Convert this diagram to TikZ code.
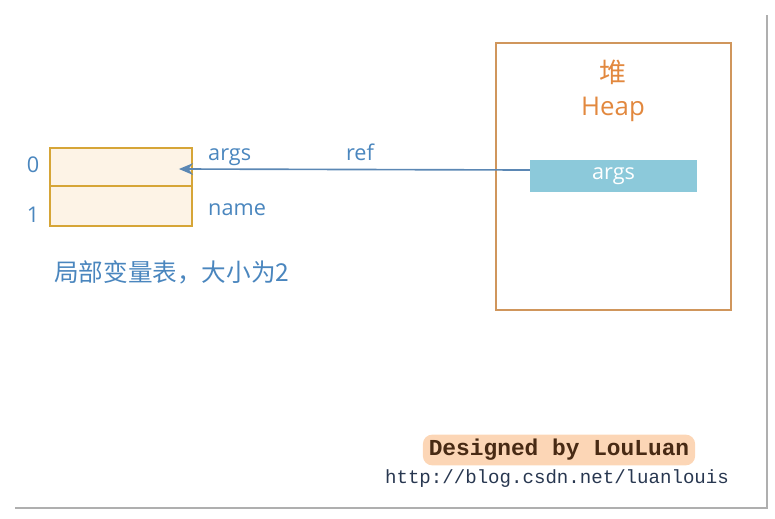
\documentclass[tikz,border=0pt]{standalone}
\usepackage{fontspec}
\setmainfont{Open Sans}
\newfontfamily\cjkfont{Noto Sans CJK SC}
\newfontfamily\monofont{Liberation Mono}
\usetikzlibrary{arrows.meta,positioning,calc}
\definecolor{labelblue}{RGB}{74, 134, 190}
\definecolor{arrowblue}{RGB}{91, 135, 180}
\definecolor{tablegold}{RGB}{214, 165, 55}
\definecolor{slotfill}{RGB}{253, 243, 230}
\definecolor{heapbrown}{RGB}{208, 150, 92}
\definecolor{heaporange}{RGB}{226, 136, 62}
\definecolor{barblue}{RGB}{140, 201, 218}
\definecolor{signbrown}{RGB}{72, 42, 20}
\definecolor{urlnavy}{RGB}{40, 55, 80}
\definecolor{glow}{RGB}{252, 214, 182}
\definecolor{shadowgray}{RGB}{175, 175, 175}

\begin{document}
\begin{tikzpicture}[x=0.03cm,y=-0.03cm,
    slot/.style={draw=tablegold,fill=slotfill,line width=1.6pt,minimum width=4.26cm,inner sep=0pt},
    bluetext/.style={text=labelblue,font=\fontsize{18.5}{20}\selectfont,inner sep=0pt}]
    \useasboundingbox (0,0) rectangle (775,518);
    % frame shadow
    \draw[shadowgray,line width=2.4pt] (15,508) -- (767,508) -- (767,15);
    % local variable table
    \node[slot,minimum height=1.14cm] (slot0) at (121,167) {};
    \node[slot,minimum height=1.2cm] (slot1) at (121,206) {};
    \node[bluetext] (idx0) at (33,165) {0};
    \node[bluetext] (idx1) at (33,215) {1};
    \node[bluetext,anchor=west] (argsname) at (208,157) {args};
    \node[bluetext,anchor=west] (namename) at (208,210) {name};
    \node[bluetext,anchor=west,font=\cjkfont\fontsize{21}{24}\selectfont] (caption) at (54,272) {局部变量表，大小为2};
    % heap
    \node[draw=heapbrown,line width=1.5pt,minimum width=7.05cm,minimum height=8.01cm] (heap) at (613.5,176.5) {};
    \node[text=heaporange,font=\cjkfont\fontsize{23}{25}\selectfont] (heapcn) at (613,72) {堆};
    \node[text=heaporange,font=\fontsize{22}{24}\selectfont] (heapen) at (613,109) {Heap};
    \node[fill=barblue,text=white,font=\fontsize{18.5}{20}\selectfont,minimum width=5.01cm,minimum height=0.96cm,inner sep=0pt] (argsobj) at (613.5,176) {args};
    % reference
    \coordinate (refstart) at ($(argsobj.west)+(0,-6)$);
    \coordinate (target) at ($(slot0.east)+(-14,2)$);
    \draw[arrowblue,line width=1.4pt,-{Stealth[length=12pt,width=10pt]}] (refstart) -- (target);
    \node[bluetext] (ref) at (360,152) {ref};
    % signature
    \node[fill=glow,rounded corners=8pt,inner xsep=5pt,inner ysep=4pt,text=signbrown,font=\monofont\bfseries\fontsize{19.5}{22}\selectfont] (sign) at (559,450) {Designed by LouLuan};
    \node[text=urlnavy,font=\monofont\fontsize{16.3}{18}\selectfont,inner sep=0pt] (url) at (557,479) {http://blog.csdn.net/luanlouis};
\end{tikzpicture}
\end{document}
